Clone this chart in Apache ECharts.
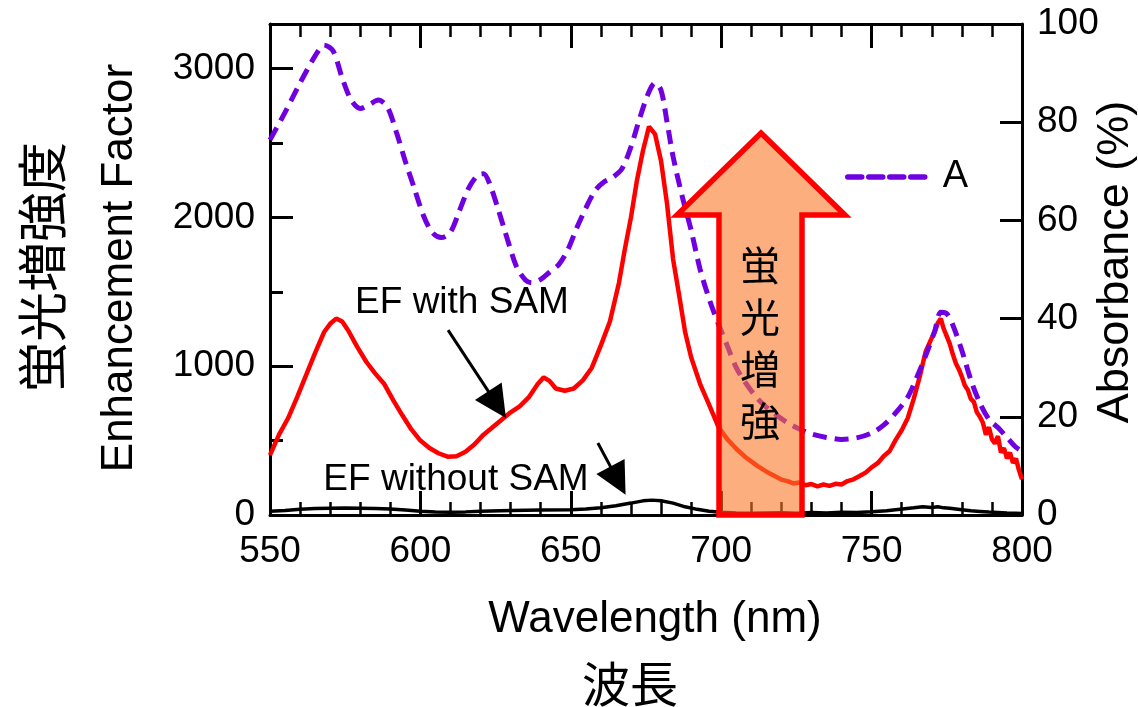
<!DOCTYPE html>
<html>
<head>
<meta charset="utf-8">
<script src="https://cdn.jsdelivr.net/npm/echarts@6/dist/echarts.min.js"></script>
<style>
  html, body { margin: 0; padding: 0; background: #fff; }
  #chart { width: 1138px; height: 707px; }
</style>
</head>
<body>
<div id="chart"></div>
<script>
// Absorbance spectrum (%), right axis
const wavelengthAbs = [550,555,560,565,568,571,574,577,580,583,586,589,592,595,598,601,604,607,610,613,616,619,621,623,626,629,632,635,637,640,643,646,649,652,655,658,661,664,667,670,673,676,678,680,682,684,687,690,693,696,699,702,705,708,711,714,718,722,726,730,735,740,745,750,754,758,762,765,768,771,773,775,777,780,783,786,789,792,795,798,800];
const absorbance = [76.4,82,88,93.5,95.7,94.5,89,84.5,82.8,83.6,84.5,83.1,78,72,66.5,61,57.5,56.5,57.6,62,66.5,69.2,69.5,67.5,62,56,50.5,47.8,47.3,48,49.5,51,54,58.5,62.5,66,67.8,68.8,70.5,75,81,86.2,88,86.5,80,73,65,58,50,44,39,34.5,30,27,24.5,22.5,20.5,18.8,17.5,16.5,15.8,15.4,15.7,16.7,18.3,20.8,24,28,32.5,37.5,41.3,41,38.7,33.5,27.5,22.8,19.5,17.8,15.8,13.8,13];

// Enhancement factor with SAM
const wavelengthEF = [550,553,556,559,562,565,568,570,572,574,576,579,582,585,588,591,594,597,600,603,606,609,612,615,618,621,624,627,630,633,636,639,641,643,645,648,651,654,657,660,663,666,668,670,672,674,676,678,680,682,684,686,688,690,693,696,699,702,705,708,712,716,720,722,724,726,728,730,732,734,736,738,740,742,744,746,748,750,752,754,756,758,760,762,764,766,768,770,771,772,773,774,775,776,777,778,779,780,781,782,783,784,785,786,787,788,789,790,791,792,793,794,795,796,797,798,799,800];
const efWithSAM = [403,540,650,790,940,1090,1230,1285,1320,1300,1240,1130,1030,950,880,770,670,575,500,450,415,392,395,425,475,540,590,640,690,730,790,880,925,900,850,835,850,905,990,1140,1300,1560,1790,2000,2250,2450,2610,2560,2380,2090,1720,1480,1230,1060,880,740,595,510,445,390,330,280,238,228,212,218,200,208,193,205,196,210,205,228,240,262,285,320,348,395,430,505,570,650,780,930,1100,1190,1230,1290,1320,1250,1200,1150,1080,1020,980,930,870,840,780,760,690,660,620,540,590,510,480,530,420,450,380,420,350,380,300,240];

// Enhancement factor without SAM
const wavelengthEF0 = [550,555,560,565,570,575,580,585,590,595,600,605,610,615,620,630,640,650,655,660,665,670,674,677,680,684,688,692,696,700,705,710,715,720,725,730,735,740,745,750,755,758,761,764,767,770,772,774,776,778,780,783,786,789,792,795,798,800];
const efWithoutSAM = [25,30,38,43,46,47,45,43,40,33,25,20,19,21,25,30,33,36,40,48,62,80,95,100,96,80,55,38,25,18,14,12,14,15,12,16,14,18,17,22,28,35,42,48,55,50,56,48,45,40,35,28,24,20,17,14,12,10];

// Axis ticks
const xTicks = { min: 550, max: 800, step: 50 };
const efTicks = { min: 0, max: 3300, step: 1000 };
const absTicks = { min: 0, max: 100, step: 20 };

const pair = (xs, ys) => xs.map((x, i) => [x, ys[i]]);

const FONT = '"Liberation Sans", Arial, sans-serif';
const CJK = '"Noto Sans CJK JP", sans-serif';
const AX = { onZero: false, lineStyle: { color: '#000', width: 3 } };
const plain = v => String(v);

const chart = echarts.init(document.getElementById('chart'), null, { renderer: 'canvas' });

const xAxisBase = {
  type: 'value', min: xTicks.min, max: xTicks.max, interval: xTicks.step,
  axisLine: AX,
  axisTick: { inside: true, length: 24, lineStyle: { color: '#000', width: 3 } },
  minorTick: { show: true, splitNumber: 5, length: 13, lineStyle: { color: '#000', width: 2.5 } },
  splitLine: { show: false }
};

chart.setOption({
  animation: false,
  grid: { left: 270, right: 116, top: 24, bottom: 192, containLabel: false },
  legend: {
    data: ['A'],
    left: 840, top: 153,
    itemWidth: 81, itemHeight: 36, itemGap: 0,
    itemStyle: { opacity: 0 },
    lineStyle: { color: '#7000e0', width: 5.5, type: [14, 7], cap: 'round' },
    textStyle: { fontFamily: FONT, fontSize: 38, color: '#000', padding: [0, 0, 0, 9] }
  },
  xAxis: [
    Object.assign({}, xAxisBase, {
      position: 'bottom',
      axisLabel: { fontFamily: FONT, fontSize: 37, color: '#000', margin: 18, formatter: plain }
    }),
    Object.assign({}, xAxisBase, {
      position: 'top',
      axisLabel: { show: false }
    })
  ],
  yAxis: [
    {
      type: 'value', position: 'left', min: efTicks.min, max: efTicks.max, interval: efTicks.step,
      axisLine: AX,
      axisTick: { inside: true, length: 23, lineStyle: { color: '#000', width: 3 } },
      axisLabel: { fontFamily: FONT, fontSize: 37, color: '#000', margin: 15, showMaxLabel: false, formatter: plain },
      splitLine: { show: false }
    },
    {
      type: 'value', position: 'right', min: absTicks.min, max: absTicks.max, interval: absTicks.step,
      axisLine: AX,
      axisTick: { inside: true, length: 22, lineStyle: { color: '#000', width: 3 } },
      axisLabel: { fontFamily: FONT, fontSize: 37, color: '#000', margin: 15, formatter: plain },
      splitLine: { show: false }
    },
    {
      // half-step ticks on the left axis
      type: 'value', position: 'left', min: efTicks.min, max: efTicks.max, interval: efTicks.step / 2,
      axisLine: { show: false },
      axisTick: { inside: true, length: 13, lineStyle: { color: '#000', width: 3 } },
      axisLabel: { show: false },
      splitLine: { show: false }
    }
  ],
  series: [
    {
      name: 'EF without SAM', type: 'line', xAxisIndex: 0, yAxisIndex: 0,
      data: pair(wavelengthEF0, efWithoutSAM),
      symbol: 'none', z: 3,
      lineStyle: { color: '#000', width: 3.5 },
      markLine: {
        silent: true, symbol: ['none', 'triangle'], symbolSize: [32, 32],
        lineStyle: { color: '#000', width: 3, type: 'solid' },
        label: { show: false },
        data: [[{ coord: [659.0, 484] }, { coord: [665.7, 231] }]]
      }
    },
    {
      name: 'EF with SAM', type: 'line', xAxisIndex: 0, yAxisIndex: 0,
      data: pair(wavelengthEF, efWithSAM),
      symbol: 'none', z: 4,
      lineStyle: { color: '#ff0000', width: 4.5 },
      markLine: {
        silent: true, symbol: ['none', 'triangle'], symbolSize: [32, 32],
        lineStyle: { color: '#000', width: 3, type: 'solid' },
        label: { show: false },
        data: [[{ coord: [609.2, 1243] }, { coord: [625.5, 742] }]]
      }
    },
    {
      name: 'A', type: 'line', xAxisIndex: 0, yAxisIndex: 1,
      data: pair(wavelengthAbs, absorbance),
      symbol: 'none', smooth: 0.3, z: 5,
      itemStyle: { color: '#7000e0' },
      lineStyle: { color: '#7000e0', width: 5, type: [14, 8] }
    }
  ],
  graphic: [
    // enhancement arrow
    {
      type: 'polygon', z: 100,
      shape: { points: [[761, 133], [845, 215], [802, 215], [802, 515], [719, 515], [719, 215], [677, 215]] },
      style: { fill: 'rgba(250,120,40,0.6)', stroke: '#ff0000', lineWidth: 5.5, lineJoin: 'miter' }
    },
    {
      type: 'text', z: 101, x: 760, y: 343,
      style: { text: '蛍\n光\n増\n強', font: '40px ' + CJK, lineHeight: 52, fill: '#000', align: 'center', verticalAlign: 'middle' }
    },
    // annotations
    { type: 'text', z: 50, x: 462, y: 303, style: { text: 'EF with SAM', font: '37px ' + FONT, fill: '#000', align: 'center', verticalAlign: 'middle' } },
    { type: 'text', z: 50, x: 456, y: 480, style: { text: 'EF without SAM', font: '37px ' + FONT, fill: '#000', align: 'center', verticalAlign: 'middle' } },
    // axis titles
    { type: 'text', x: 42, y: 267, rotation: Math.PI / 2, style: { text: '蛍光増強度', font: '50px ' + CJK, fill: '#000', align: 'center', verticalAlign: 'middle' } },
    { type: 'text', x: 120, y: 268, rotation: Math.PI / 2, style: { text: 'Enhancement Factor', font: '44px ' + FONT, fill: '#000', align: 'center', verticalAlign: 'middle' } },
    { type: 'text', x: 1116, y: 262, rotation: Math.PI / 2, style: { text: 'Absorbance (%)', font: '45px ' + FONT, fill: '#000', align: 'center', verticalAlign: 'middle' } },
    { type: 'text', x: 655, y: 620, style: { text: 'Wavelength (nm)', font: '44px ' + FONT, fill: '#000', align: 'center', verticalAlign: 'middle' } },
    { type: 'text', x: 630, y: 684, style: { text: '波長', font: '48px ' + CJK, fill: '#000', align: 'center', verticalAlign: 'middle' } }
  ]
});
</script>
</body>
</html>
